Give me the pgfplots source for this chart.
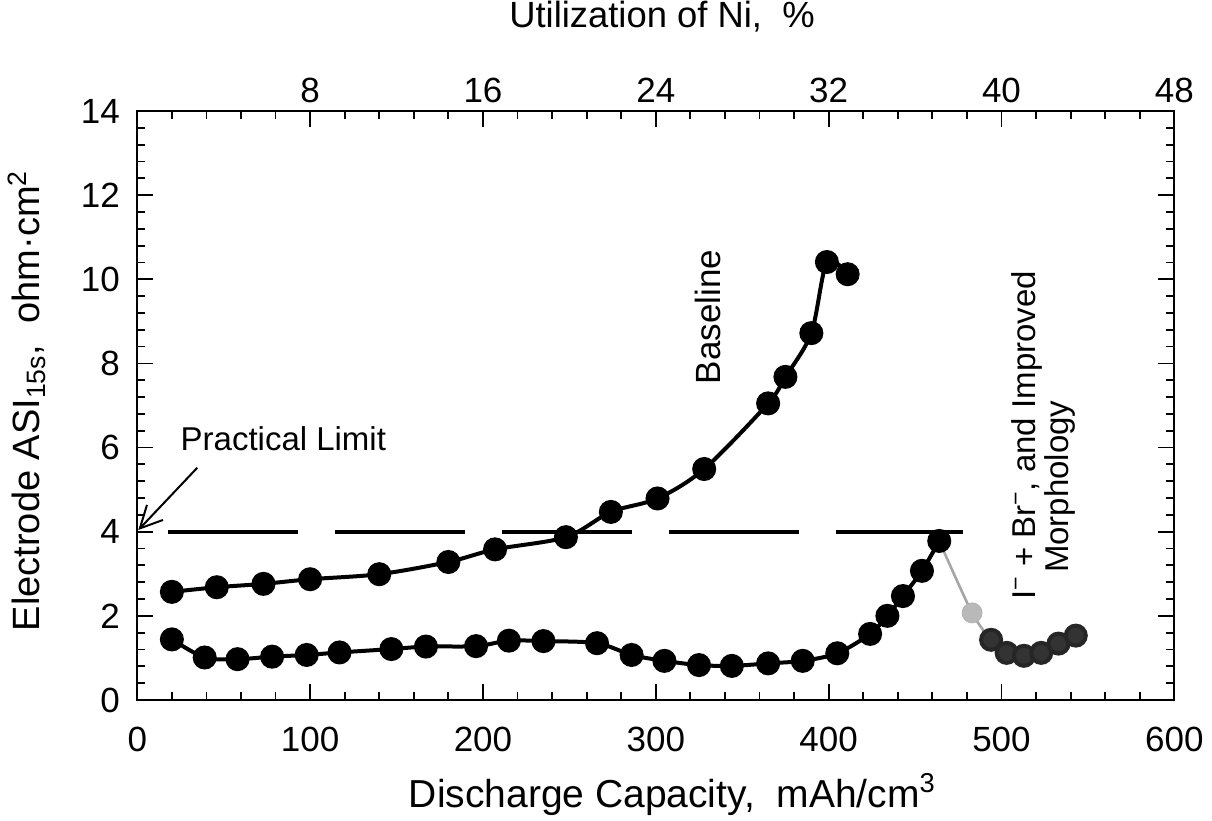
\documentclass[border=0pt]{standalone}
\usepackage{fontspec}
\setmainfont{Liberation Sans}
\usepackage{pgfplots}
\pgfplotsset{compat=1.18}
\usetikzlibrary{arrows.meta}
\newcommand{\lbl}{\fontsize{17.5}{21}\selectfont}
\newcommand{\ann}{\fontsize{16.5}{20}\selectfont}

\begin{document}
\begin{tikzpicture}
\begin{axis}[
  scale only axis, width=518.5pt, height=294.5pt,
  xmin=0, xmax=600, ymin=0, ymax=14,
  xtick={0,100,...,600}, ytick={0,2,...,14},
  minor x tick num=4, minor y tick num=4,
  tick align=inside, tick pos=both,
  major tick length=8pt, minor tick length=4pt,
  every tick/.style={black, line width=0.9pt},
  axis line style={line width=1pt},
  tick label style={font=\lbl},
  /pgf/number format/assume math mode=true,
  xticklabel style={inner sep=0pt, yshift=-13.5pt},
  yticklabel style={inner sep=0pt, xshift=-8.5pt},
  xlabel={Discharge Capacity,\ \ mAh/cm\textsuperscript{3}},
  xlabel style={font=\fontsize{19.5}{23}\selectfont, at={(axis description cs:0.516,0)}, anchor=center, yshift=-47.5pt},
  ylabel={Electrode ASI\textsubscript{15s},\ \ ohm·cm\textsuperscript{2}},
  ylabel style={font=\fontsize{19}{23}\selectfont, at={(axis description cs:0,0.508)}, anchor=center, yshift=55pt},
  clip=false
]
% practical limit
\addplot[black, line width=2pt, dash pattern=on 65pt off 18.5pt] coordinates {(18,4) (478,4)};
% baseline
\addplot[black, line width=2pt, smooth, mark=*, mark size=5pt, mark options={solid, fill=black}] coordinates {
  (20,2.57) (46,2.68) (73,2.76) (100,2.87) (140,2.99) (180,3.28) (207,3.58)
  (248,3.87) (274,4.47) (301,4.79) (328,5.49) (365,7.05) (375,7.68)
  (390,8.72) (399,10.41) (411,10.12)
};
% I- + Br-, improved morphology
\addplot[black, line width=2pt, smooth, mark=*, mark size=5pt, mark options={solid, fill=black}] coordinates {
  (20,1.44) (39,1.01) (58,0.97) (78,1.03) (98,1.07) (117,1.13) (147,1.21)
  (167,1.27) (196,1.28) (215,1.41) (235,1.40) (266,1.35) (286,1.07)
  (305,0.93) (325,0.83) (344,0.81) (365,0.87) (385,0.93) (405,1.11)
  (424,1.57) (434,2.00) (443,2.47) (454,3.07) (464,3.78)
};
\addplot[gray!70, line width=1.3pt, smooth] coordinates {(464,3.78) (483,2.07) (494,1.43)};
\addplot[only marks, mark=*, mark size=5pt, mark options={draw=gray!60, fill=gray!55}] coordinates {(483,2.07)};
\addplot[black!85, line width=2pt, smooth, mark=*, mark size=5pt, mark options={solid, fill=black!80}] coordinates {
  (494,1.43) (503,1.12) (513,1.05) (523,1.12) (533,1.34) (543,1.53)
};
\draw[line width=1pt, -{Straight Barb[length=11pt, width=11pt]}] (axis cs:34.7,5.52) -- (axis cs:0.6,4.04);
\node[anchor=west, font=\ann] at (axis cs:21,6.22) {Practical Limit};
\node[rotate=90, font=\fontsize{17.5}{21}\selectfont] at (axis cs:330,9.1) {Baseline};
\node[rotate=90, font=\ann] at (axis cs:515,6.29) {I\textsuperscript{−} + Br\textsuperscript{−}, and Improved};
\node[rotate=90, font=\ann] at (axis cs:534,5.07) {Morphology};
\coordinate (bl) at (rel axis cs:0,0);
\coordinate (tr) at (rel axis cs:1,1);
\end{axis}
\begin{axis}[
  scale only axis, width=518.5pt, height=294.5pt,
  xmin=0, xmax=48, ymin=0, ymax=14,
  axis x line*=top, hide y axis,
  axis line style={draw=none},
  xtick={8,16,...,48}, major tick length=0pt,
  xtick style={draw=none},
  /pgf/number format/assume math mode=true,
  xticklabel style={font=\lbl, inner sep=0pt, yshift=4pt},
  xlabel={Utilization of Ni,\ \ \%},
  xlabel style={font=\fontsize{18.2}{22}\selectfont, at={(axis description cs:0.506,1)}, anchor=center, yshift=47pt}
]
\addplot[draw=none] coordinates {(0,0) (48,14)};
\end{axis}
\pgfresetboundingbox
\path ([shift={(-68.65pt,-60.5pt)}]bl) rectangle ([shift={(18.85pt,55.5pt)}]tr);
\end{tikzpicture}
\end{document}
